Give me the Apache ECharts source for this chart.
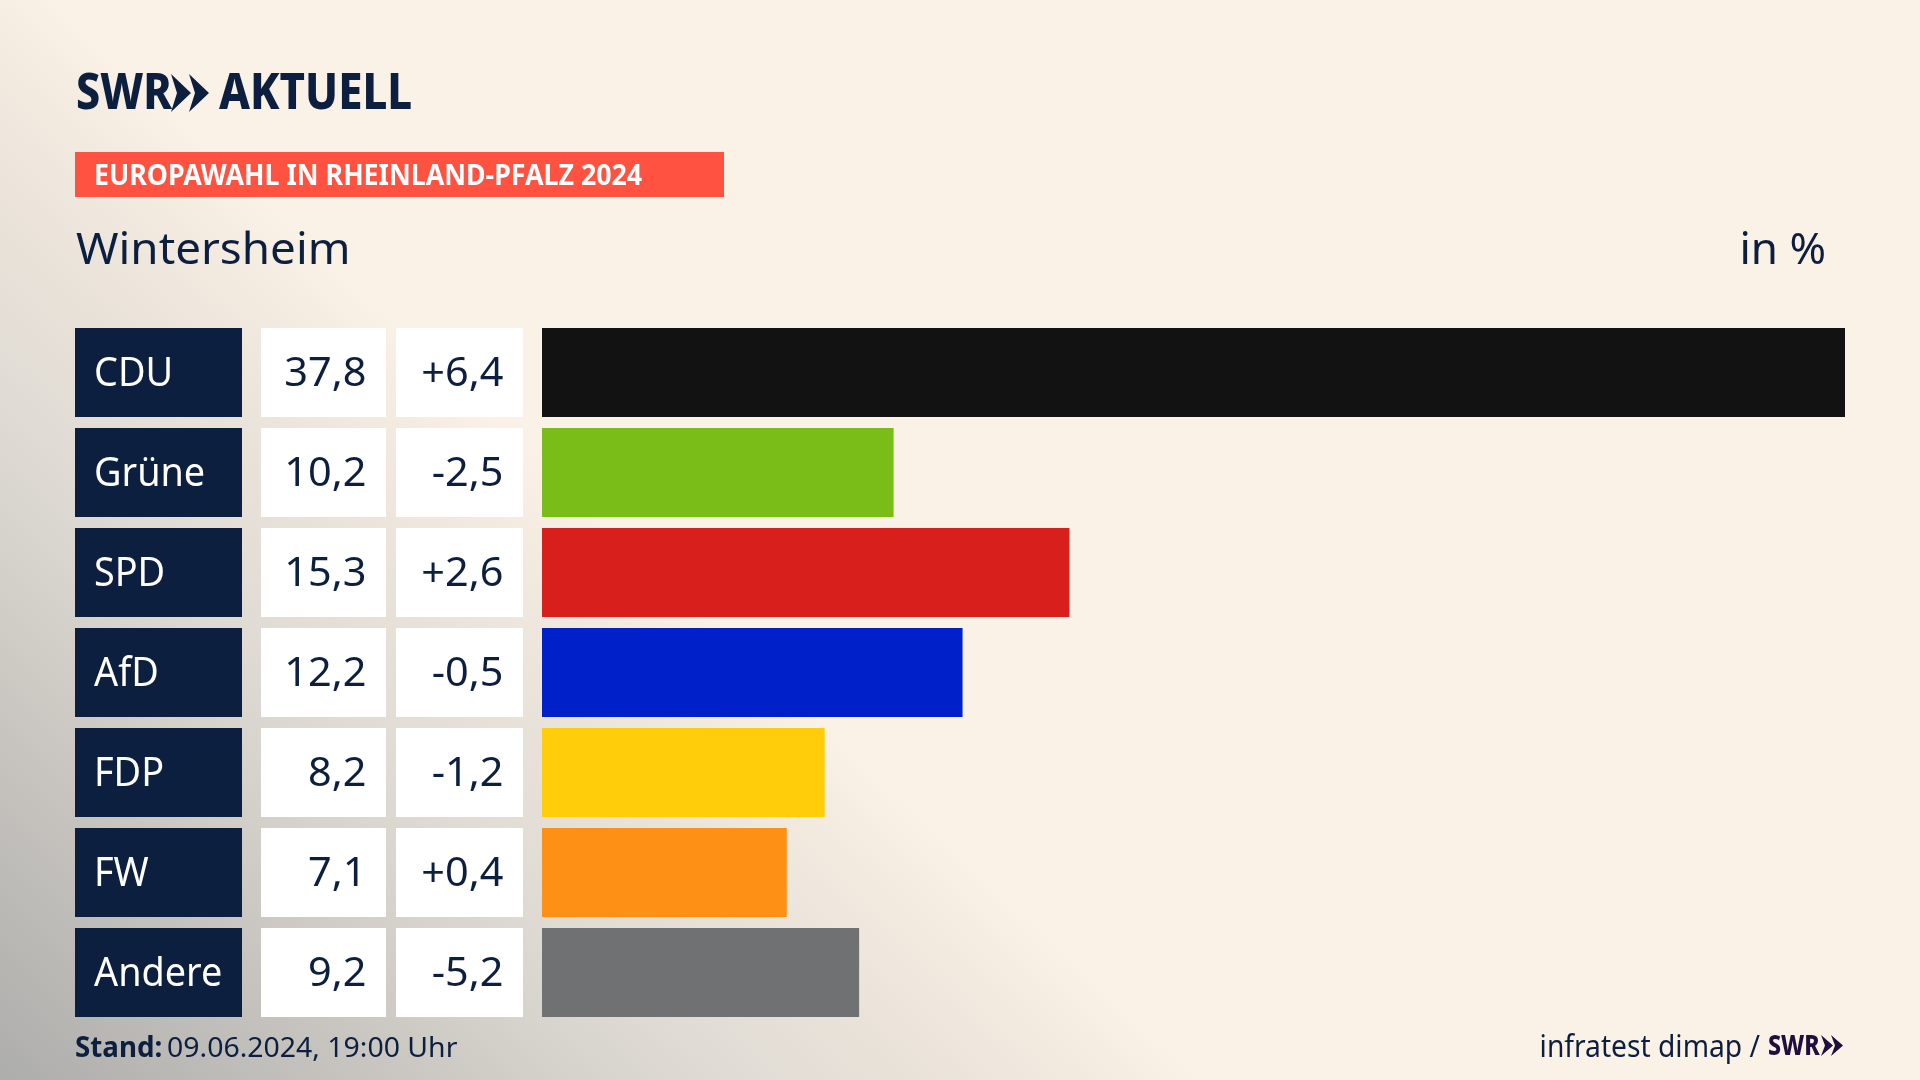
<!DOCTYPE html>
<html lang="de"><head><meta charset="utf-8">
<script src="https://cdn.jsdelivr.net/npm/echarts@6/dist/echarts.min.js"></script>
<style>
html,body{margin:0;padding:0;width:1920px;height:1080px;overflow:hidden;background:#FBF2E7}
#c{width:1920px;height:1080px}
</style></head><body><div id="c"></div>
<script>
const categories = ['CDU','Grüne','SPD','AfD','FDP','FW','Andere'];
const shares = [37.8,10.2,15.3,12.2,8.2,7.1,9.2];
const changes = [6.4,-2.5,2.6,-0.5,-1.2,0.4,-5.2];
const barColors = ['#121212','#7ABD18','#D81F1C','#0021C9','#FFCD0A','#FF9016','#707173'];
const headline = 'EUROPAWAHL IN RHEINLAND-PFALZ 2024';
const place = 'Wintersheim';
const unit = 'in %';
const standLabel = 'Stand:';
const standDate = '09.06.2024, 19:00 Uhr';
const sourceText = 'infratest dimap /';

const NAVY = '#0C1F3F';
const FONT = '"Noto Sans", sans-serif';
const fmt = v => v.toFixed(1).replace('.', ',');
const fmtDelta = v => (v > 0 ? '+' : '') + fmt(v);

function txt(text, x, y, size, opts) {
  opts = opts || {};
  return {type:'text', x:x, y:y, scaleX:opts.sx||1, silent:true, z:10,
    style:{text:text, fontFamily:FONT, fontSize:size, fontWeight:opts.w||400,
      fill:opts.fill||NAVY, align:opts.align||'left', verticalAlign:'middle'}};
}
function chevrons(x, top, h, w, notch, gap, fill) {
  const one = ox => ({type:'polygon', silent:true, z:10, shape:{points:[
    [ox,top],[ox+w,top+h/2],[ox,top+h],[ox+notch,top+h/2]]},
    style:{fill:fill}});
  return [one(x), one(x+gap)];
}

const chart = echarts.init(document.getElementById('c'), null, {renderer:'canvas', width:1920, height:1080});
chart.setOption({
  animation:false,
  backgroundColor:{type:'linear', global:true, x:0, y:-50, x2:-564, y2:551, colorStops:[
    {offset:0,color:'#FBF2E7'},{offset:0.073,color:'#F4ECE1'},{offset:0.238,color:'#E9E2D9'},
    {offset:0.419,color:'#DEDAD3'},{offset:0.683,color:'#C8C5C0'},{offset:1,color:'#ADADAB'}]},
  grid:{left:542, width:1303, top:322.5, height:700, containLabel:false},
  xAxis:{type:'value', min:0, max:37.8, show:false},
  yAxis:{type:'category', inverse:true, data:categories, show:false},
  graphic:[
    txt('SWR', 76, 95, 50, {w:800, sx:0.86}),
    ...chevrons(171, 74, 38, 20, 6, 18, NAVY),
    txt('AKTUELL', 219, 95, 50, {w:800, sx:0.875}),
    {type:'rect', silent:true, shape:{x:75,y:152,width:649,height:45}, style:{fill:'#FF5240'}},
    txt(headline, 94, 177, 28, {w:700, fill:'#FFFFFF', sx:0.956}),
    txt(place, 76, 251, 44, {sx:1.04}),
    txt(unit, 1826, 251, 44, {align:'right', sx:1.0}),
    txt(standLabel, 75, 1049.5, 28, {w:700, sx:0.99}),
    txt(standDate, 167, 1049.5, 28, {sx:1.015}),
    txt(sourceText, 1760, 1048, 30, {align:'right', sx:0.94}),
    txt('SWR', 1768, 1047, 29, {w:800, sx:0.8, fill:'#1F0F3D'}),
    ...chevrons(1821, 1035, 21, 12, 4, 10, '#1F0F3D')
  ],
  series:[
    {type:'bar', barWidth:89, silent:true,
     data:shares.map((v,i)=>({value:v, itemStyle:{color:barColors[i]}}))},
    {type:'custom', silent:true, clip:false,
     encode:{x:0,y:1},
     data:categories.map((c,i)=>[0,i]),
     renderItem:function(params, api){
       const i = params.dataIndex;
       const cy = api.coord([0, api.value(1)])[1];
       const top = cy - 44.5, h = 89;
       const box = (x,w,fill)=>({type:'rect', shape:{x:x,y:top,width:w,height:h}, style:{fill:fill}});
       const t = (s,x,fill,align,sx)=>({type:'text', x:x, y:cy+2.5, z2:5, scaleX:sx, style:{text:s, fontFamily:FONT, fontSize:40, fill:fill, align:align, verticalAlign:'middle'}});
       return {type:'group', children:[
         box(75,167,NAVY), box(261,125,'#FFFFFF'), box(396,127,'#FFFFFF'),
         t(categories[i],94,'#FFFFFF','left',0.945),
         t(fmt(shares[i]),366.5,NAVY,'right',1.036),
         t(fmtDelta(changes[i]),503.5,NAVY,'right',1.036)
       ]};
     }}
  ]
});
</script></body></html>
